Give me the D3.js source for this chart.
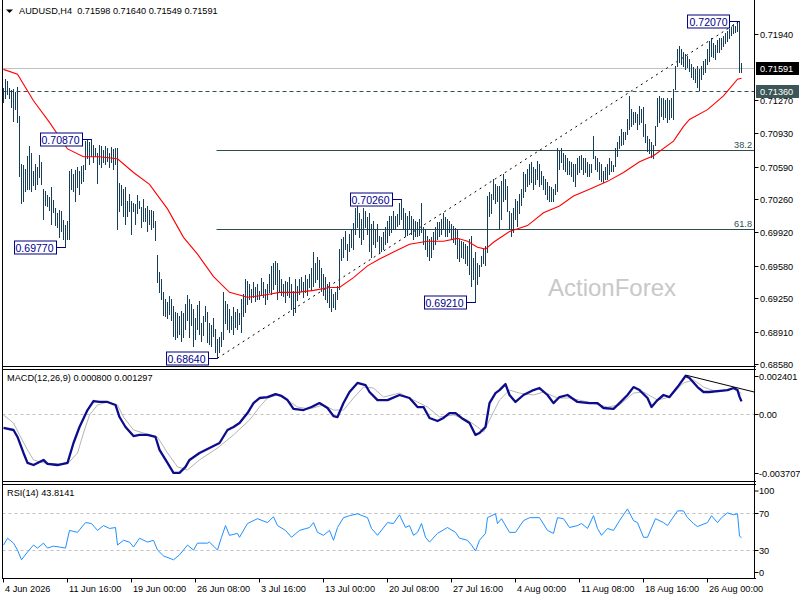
<!DOCTYPE html>
<html><head><meta charset="utf-8">
<script src="https://cdn.jsdelivr.net/npm/d3@7"></script>
<style>
html,body{margin:0;padding:0;background:#fff;}
svg{display:block;font-family:"Liberation Sans",Arial,sans-serif;}
</style>
</head><body>
<svg id="c" width="800" height="600"></svg>
<script>
// ---------------- DATA ----------------
const symbol = "AUDUSD,H4";
const headerOHLC = [0.71598, 0.71640, 0.71549, 0.71591];

// bar highs / lows in pips (0.0001)
const highPips = [7139,7148,7146,7139,7136,7138,7134,7140,7110,7061,7060,7056,7069,7079,7072,7054,7061,7058,7070,7063,
7036,7034,7030,7028,7038,7025,7016,7011,7014,7013,7004,6999,7003,7054,7056,7051,7055,7058,7054,7059,
7060,7085,7086,7084,7087,7081,7077,7072,7080,7079,7075,7079,7077,7072,7078,7076,7077,7077,7042,7040,
7036,7038,7023,7031,7023,7021,7020,7030,7023,7017,7026,7016,7018,7014,7014,7013,7003,6969,6951,6944,
6931,6924,6921,6927,6924,6917,6911,6909,6906,6912,6909,6919,6928,6924,6919,6914,6904,6918,6922,6899,
6906,6917,6911,6899,6897,6904,6893,6883,6885,6890,6931,6922,6919,6914,6906,6916,6911,6914,6909,6924,
6929,6944,6942,6939,6934,6941,6936,6939,6932,6945,6941,6934,6939,6949,6957,6960,6962,6960,6953,6944,
6939,6942,6941,6946,6939,6932,6944,6937,6944,6946,6941,6948,6944,6949,6955,6972,6960,6967,6963,6955,
6949,6946,6939,6941,6934,6929,6931,6937,6975,6985,6987,6993,6980,6990,6995,7001,7016,7023,7011,7005,
7016,7013,7007,7011,7000,7003,6995,7000,6988,6987,6992,6997,7003,7008,7008,7013,7008,7010,7021,7026,
7016,7011,7008,7013,7008,7005,7003,7002,7005,7021,6997,6995,6988,6985,6987,6992,6997,7002,7002,7005,
7011,7007,7005,7003,7000,6998,6996,6995,6985,6983,6982,6980,6978,6985,6988,6965,6972,6960,6958,6968,
6975,6978,7029,7033,7031,7046,7041,7039,7039,7044,7051,7046,7039,7013,7011,7016,7026,7023,7031,7036,
7053,7051,7056,7061,7063,7058,7056,7064,7061,7054,7049,7046,7043,7039,7038,7036,7041,7077,7074,7077,
7072,7070,7067,7064,7063,7061,7061,7067,7069,7070,7067,7067,7063,7061,7061,7090,7069,7067,7063,7061,
7054,7058,7061,7067,7064,7060,7077,7084,7090,7097,7094,7094,7107,7130,7117,7114,7114,7112,7120,7117,
7119,7102,7090,7087,7084,7080,7100,7128,7130,7128,7128,7126,7128,7126,7128,7138,7161,7178,7181,7178,
7175,7173,7171,7168,7163,7160,7158,7161,7158,7161,7166,7168,7178,7186,7189,7184,7182,7187,7189,7189,
7191,7194,7197,7199,7201,7204,7202,7205,7207,7164];
const lowPips = [7124,7128,7132,7128,7119,7105,7117,7104,7049,7021,7023,7034,7036,7036,7034,7040,7036,7041,7048,7041,
7005,7019,7018,7014,7000,7012,6999,6997,6987,6993,6985,6977,6985,6985,7036,7034,7023,7038,7031,7042,
7044,7056,7067,7061,7069,7063,7069,7042,7061,7058,7063,7061,7064,7058,7063,7056,7061,6995,7013,7019,
7008,7000,7008,7013,6990,7013,7000,7011,7016,6997,7003,7003,6993,7000,6995,6997,6984,6941,6931,6924,
6907,6906,6904,6908,6902,6886,6883,6885,6888,6881,6885,6893,6902,6885,6897,6876,6883,6893,6888,6881,
6887,6901,6880,6878,6876,6886,6870,6864,6870,6876,6883,6899,6893,6890,6893,6888,6895,6893,6898,6890,
6906,6911,6919,6924,6921,6926,6922,6924,6924,6928,6926,6919,6924,6931,6929,6934,6939,6924,6931,6928,
6927,6921,6928,6926,6914,6907,6911,6923,6929,6932,6926,6931,6928,6936,6934,6937,6941,6944,6936,6932,
6928,6924,6921,6916,6912,6916,6914,6924,6934,6963,6967,6975,6963,6973,6977,6975,6990,6997,6987,6980,
6985,6997,6990,6973,6967,6980,6977,6983,6972,6973,6975,6980,6982,6989,6992,6995,6995,6998,7000,7005,
6995,6988,6989,6995,6990,6985,6988,6988,6989,6992,6980,6975,6968,6963,6967,6975,6980,6985,6988,6990,
6995,6988,6988,6992,6985,6982,6980,6965,6962,6967,6965,6960,6958,6949,6937,6944,6921,6939,6947,6957,
6960,6958,6972,7008,7011,7026,7021,7023,6995,7005,7023,7026,7013,6995,6988,6992,7005,6998,7011,7019,
7028,7034,7039,7041,7043,7036,7041,7046,7039,7041,7036,7031,7026,7023,7023,7024,7031,7034,7056,7063,
7056,7054,7051,7051,7049,7044,7039,7051,7053,7056,7051,7053,7049,7049,7053,7067,7056,7054,7046,7044,
7043,7046,7046,7051,7054,7054,7059,7069,7077,7080,7082,7087,7092,7097,7100,7102,7104,7097,7102,7104,
7090,7084,7074,7072,7068,7067,7080,7100,7104,7110,7107,7109,7104,7107,7109,7107,7138,7161,7165,7163,
7161,7158,7160,7156,7150,7148,7145,7140,7136,7148,7153,7155,7163,7166,7171,7170,7168,7175,7175,7178,
7181,7184,7186,7189,7192,7194,7196,7197,7155,7155];

// moving average (red) [bar index, pips]
const maPts = [[0,7158],[7,7153],[15,7126],[23,7104],[32,7077],[40,7069],[48,7069],[57,7067],[65,7053],[73,7041],
[82,7016],[90,6987],[97,6970],[105,6947],[113,6931],[122,6926],[130,6928],[138,6931],[147,6931],[155,6933],
[163,6936],[168,6936],[175,6946],[182,6958],[188,6965],[195,6972],[203,6980],[212,6983],[220,6983],[227,6986],
[232,6983],[237,6977],[241,6975],[245,6982],[253,6993],[262,6999],[270,7012],[278,7019],[285,7029],[293,7036],
[302,7044],[310,7053],[318,7064],[325,7070],[335,7085],[340,7100],[343,7107],[352,7117],[360,7131],[367,7148],[369,7149]];

const priceTicks = [0.71940,0.71270,0.70930,0.70590,0.70260,0.69920,0.69580,0.69250,0.68910,0.68580];
const bidPrice = 0.71591;
const supportLevel = 0.71360;
const swingLabels = [[44,0.70870],[31,0.69770],[107,0.68640],[199,0.70260],[236,0.69210],[368,0.72070]];
const fibLow = [107, 0.68640];
const fibHigh = [368, 0.72070];
const fibLevels = [38.2, 61.8];
const watermark = "ActionForex";

const macdName = "MACD(12,26,9)";
const macdLast = [0.000800, 0.001297];
const macdMain = [[0,-0.00088],[5,-0.00101],[7,-0.00145],[10,-0.00246],[12,-0.00309],[15,-0.00322],[17,-0.00309],[20,-0.00290],[22,-0.00315],[27,-0.00322],
[32,-0.00309],[35,-0.00183],[38,-0.00082],[42,0.00025],[45,0.00082],[48,0.00076],[52,0.00076],[56,0.00057],[58,-0.00019],[61,-0.00082],
[65,-0.00139],[68,-0.00132],[72,-0.00132],[76,-0.00145],[78,-0.00227],[82,-0.00309],[85,-0.00372],[88,-0.00372],[91,-0.00334],[93,-0.00290],
[98,-0.00246],[103,-0.00215],[108,-0.00183],[112,-0.00101],[115,-0.00082],[118,-0.00057],[122,0.00006],[125,0.00069],[128,0.00101],[132,0.00107],
[136,0.00126],[139,0.00114],[142,0.00088],[145,0.00032],[150,0.00025],[154,0.00044],[158,0.00069],[162,0.00038],[165,-0.00013],[167,-0.00019],
[170,0.00069],[173,0.00139],[177,0.00196],[181,0.00183],[183,0.00139],[187,0.00088],[192,0.00088],[198,0.00120],[203,0.00101],[207,0.00044],
[210,0.00044],[213,-0.00025],[217,-0.00044],[220,-0.00025],[223,0.00006],[226,0.00006],[229,-0.00025],[233,-0.00057],[236,-0.00132],[238,-0.00120],
[241,-0.00082],[243,0.00069],[246,0.00132],[248,0.00151],[251,0.00189],[253,0.00120],[256,0.00076],[260,0.00120],[265,0.00151],[268,0.00164],
[272,0.00120],[275,0.00069],[278,0.00107],[282,0.00120],[287,0.00076],[293,0.00069],[297,0.00069],[300,0.00038],[305,0.00032],[308,0.00069],
[312,0.00120],[315,0.00170],[318,0.00151],[322,0.00101],[324,0.00044],[327,0.00088],[330,0.00120],[333,0.00107],[337,0.00170],[341,0.00240],
[343,0.00227],[347,0.00170],[350,0.00139],[353,0.00139],[357,0.00145],[362,0.00151],[365,0.00164],[367,0.00151],[368,0.00110],[369,0.00080]];
const macdSignal = [[0,-0.00006],[5,-0.00057],[8,-0.00132],[12,-0.00227],[15,-0.00290],[20,-0.00309],[27,-0.00315],[32,-0.00315],[37,-0.00246],[40,-0.00120],
[43,-0.00006],[47,0.00057],[52,0.00076],[57,0.00057],[60,-0.00019],[65,-0.00101],[70,-0.00120],[77,-0.00145],[82,-0.00246],[87,-0.00334],
[92,-0.00353],[98,-0.00290],[107,-0.00215],[115,-0.00132],[123,-0.00038],[128,0.00044],[132,0.00101],[137,0.00120],[142,0.00088],[147,0.00044],
[153,0.00032],[160,0.00057],[165,0.00025],[170,0.00025],[175,0.00101],[180,0.00170],[185,0.00164],[190,0.00107],[198,0.00132],[205,0.00088],
[212,0.00044],[218,-0.00019],[225,-0.00006],[232,-0.00038],[237,-0.00082],[240,-0.00114],[243,-0.00038],[248,0.00088],[253,0.00151],[258,0.00132],
[265,0.00120],[270,0.00139],[277,0.00101],[283,0.00101],[292,0.00076],[302,0.00044],[308,0.00057],[315,0.00132],[320,0.00139],[327,0.00088],
[333,0.00107],[340,0.00196],[345,0.00215],[350,0.00170],[357,0.00139],[365,0.00158],[369,0.001297]];
const macdTicks = [0.002401, 0, -0.003707];
const macdTrend = [[341,0.00246],[366,0.00168]];

const rsiName = "RSI(14)";
const rsiLast = 43.8141;
const rsiPts = [[0,35.8],[2,43.2],[5,37.9],[7,30.5],[9,20],[12,28.4],[15,35.8],[17,32.6],[20,37.9],[22,32.6],[25,34.7],[28,33.7],[31,32.6],
[33,51.6],[37,49.5],[41,60],[44,59],[47,51.6],[50,56.8],[53,53.7],[56,54.7],[57,35.8],[60,41],[63,39],[65,33.7],[68,43.2],[72,39],[75,41],
[77,30.5],[80,24.2],[85,20],[88,25.3],[92,35.8],[95,30.5],[97,37.9],[102,37.9],[103,39],[107,30.5],[109,44.2],[111,56.8],[113,46.3],[117,48.4],
[118,44.2],[122,59],[127,64.2],[132,60],[135,66.3],[137,56.8],[141,51.6],[144,44.2],[148,51.6],[153,54.7],[155,60],[157,49.5],[160,46.3],
[163,51.6],[165,41],[167,54.7],[170,65.3],[173,67.4],[177,69.5],[182,65.3],[184,53.7],[187,46.3],[192,60],[195,59],[198,68.4],[201,54.7],
[203,56.8],[205,46.3],[207,49.5],[209,59],[211,44.2],[213,39],[217,48.4],[222,54.7],[226,49.5],[228,43.2],[232,41],[234,35.8],[236,29.5],
[238,41],[241,48.4],[242,65.3],[246,69.5],[247,59],[249,64.2],[253,49.5],[256,49.5],[260,62.1],[263,65.3],[268,65.3],[272,51.6],[275,48.4],
[277,65.3],[280,64.2],[283,54.7],[287,56.8],[289,59],[292,53.7],[295,67.4],[297,53.7],[299,46.3],[302,53.7],[305,51.6],[308,62.1],[312,74.7],
[315,62.1],[317,60],[320,44.2],[322,44.2],[326,64.2],[330,60],[332,56.8],[337,72.6],[340,72.6],[342,65.3],[345,59],[347,55.8],[352,60],
[354,67.4],[357,60],[359,65.3],[362,70.5],[365,68.4],[367,69.5],[368,45.5],[369,43.81]];
const rsiLevels = [70, 30];
const rsiTicks = [100, 70, 30, 0];

const timeTicks = [[0,"4 Jun 2026"],[32,"11 Jun 16:00"],[64,"19 Jun 00:00"],[96,"26 Jun 08:00"],[128,"3 Jul 16:00"],[160,"13 Jul 00:00"],
[192,"20 Jul 08:00"],[224,"27 Jul 16:00"],[256,"4 Aug 00:00"],[288,"11 Aug 08:00"],[320,"18 Aug 16:00"],[352,"26 Aug 00:00"]];

// ---------------- DRAW ----------------
const svg = d3.select("#c");
const FS = 9.2;
const L = 2.5, R = 754.5;
const P = {main:[-1,366.5], macd:[369.5,481.5], rsi:[484.5,578.5]};
const n = highPips.length;

const x = d3.scaleLinear().domain([0, 369]).range([3.5, 741.5]);
const yP = d3.scaleLinear().domain([0.685555, 0.72286]).range([366.5, 0]);
const yM = d3.scaleLinear().domain([-0.00423, 0.00281]).range([481, 369.5]);
const yR = d3.scaleLinear().domain([0, 100]).range([578.4, 485.4]);

svg.append("rect").attr("width",800).attr("height",600).attr("fill","#fff");

const defs = svg.append("defs");
Object.entries(P).forEach(([k,[t,b]])=>{
  defs.append("clipPath").attr("id","clip-"+k).append("rect").attr("x",L).attr("y",t).attr("width",R-L).attr("height",b-t);
});

// ---- main panel ----
const gm = svg.append("g").attr("clip-path","url(#clip-main)");
// watermark
gm.append("text").attr("x",548).attr("y",296).attr("font-size",24).attr("fill","#c8c8c8").text(watermark);
// bid line
gm.append("line").attr("x1",L).attr("x2",R).attr("y1",Math.round(yP(bidPrice))+0.5).attr("y2",Math.round(yP(bidPrice))+0.5)
  .attr("stroke","#c0c0c0").attr("stroke-width",1);
// support dashed line
gm.append("line").attr("x1",L).attr("x2",R).attr("y1",Math.round(yP(supportLevel))+0.5).attr("y2",Math.round(yP(supportLevel))+0.5)
  .attr("stroke","#2f4f4f").attr("stroke-width",1).attr("stroke-dasharray","4,3");
// fib lines
const fibRange = fibHigh[1]-fibLow[1];
fibLevels.forEach(lv=>{
  const p = fibHigh[1] - fibRange*lv/100;
  const yy = Math.round(yP(p))+0.5;
  gm.append("line").attr("x1",x(fibLow[0])-1).attr("x2",R).attr("y1",yy).attr("y2",yy).attr("stroke","#2f4f4f").attr("stroke-width",1);
  gm.append("text").attr("x",752).attr("y",yy-2.5).attr("text-anchor","end").attr("font-size",FS).attr("fill","#2f4f4f").text(lv.toFixed(1));
});
// trendline (dotted)
gm.append("line").attr("x1",x(fibLow[0])).attr("y1",yP(fibLow[1])).attr("x2",x(fibHigh[0])).attr("y2",yP(fibHigh[1]))
  .attr("stroke","#000").attr("stroke-width",1).attr("stroke-dasharray","2,4");
// bars
gm.append("g").selectAll("line").data(d3.range(n)).join("line")
  .attr("x1",i=>x(i)).attr("x2",i=>x(i))
  .attr("y1",i=>yP(highPips[i]/1e4)-0.5).attr("y2",i=>yP(lowPips[i]/1e4)+0.5)
  .attr("stroke","#173e58").attr("stroke-width",1).attr("shape-rendering","crispEdges");
// moving average
gm.append("path").datum(maPts).attr("fill","none").attr("stroke","#ff0000").attr("stroke-width",1.1)
  .attr("d", d3.line().x(d=>x(d[0])).y(d=>yP(d[1]/1e4)));
// swing labels
const fmt5 = d3.format(".5f");
swingLabels.forEach(([i,p])=>{
  const ax = x(i), ay = Math.round(yP(p))+0.5;
  const g = svg.append("g");
  const t = g.append("text").attr("font-size",10.5).attr("fill","#00008b").attr("text-anchor","end")
    .attr("x", ax-12).attr("y", ay+4).text(fmt5(p));
  const w = t.node().getComputedTextLength();
  const bx = Math.round(ax-10) + 0.5;
  g.insert("rect","text").attr("x",bx-w-4).attr("y",ay-6.5).attr("width",w+4).attr("height",13)
    .attr("fill","#fff").attr("stroke","#000080").attr("stroke-width",1);
  g.append("line").attr("x1",bx).attr("x2",ax).attr("y1",ay).attr("y2",ay).attr("stroke","#000080").attr("stroke-width",1);
});

// ---- MACD panel ----
const gd = svg.append("g").attr("clip-path","url(#clip-macd)");
gd.append("line").attr("x1",L).attr("x2",R).attr("y1",Math.round(yM(0))+0.5).attr("y2",Math.round(yM(0))+0.5)
  .attr("stroke","#c0c0c0").attr("stroke-dasharray","3,3");
gd.append("path").datum(macdSignal).attr("fill","none").attr("stroke","#b4b4b4").attr("stroke-width",1)
  .attr("d", d3.line().x(d=>x(d[0])).y(d=>yM(d[1])));
gd.append("path").datum(macdMain).attr("fill","none").attr("stroke","#0c0c8c").attr("stroke-width",2.3)
  .attr("stroke-linejoin","round").attr("d", d3.line().x(d=>x(d[0])).y(d=>yM(d[1])));
{
  const [a,b] = macdTrend;
  const x1 = x(a[0]), y1 = yM(a[1]), x2 = x(b[0]), y2 = yM(b[1]);
  const slope = (y2-y1)/(x2-x1);
  gd.append("line").attr("x1",x1).attr("y1",y1).attr("x2",R).attr("y2",y1+slope*(R-x1)).attr("stroke","#000").attr("stroke-width",1);
}

// ---- RSI panel ----
const gr = svg.append("g").attr("clip-path","url(#clip-rsi)");
rsiLevels.forEach(v=>{
  const yy = Math.round(yR(v))+0.5;
  gr.append("line").attr("x1",L).attr("x2",R).attr("y1",yy).attr("y2",yy).attr("stroke","#c0c0c0").attr("stroke-dasharray","3,3");
});
gr.append("path").datum(rsiPts).attr("fill","none").attr("stroke","#1e90ff").attr("stroke-width",1)
  .attr("d", d3.line().x(d=>x(d[0])).y(d=>yR(d[1])));

// ---- frames ----
const fr = svg.append("g").attr("stroke","#000").attr("stroke-width",1).attr("fill","none").attr("shape-rendering","crispEdges");
fr.append("line").attr("x1",L).attr("x2",L).attr("y1",0).attr("y2",P.rsi[1]);
fr.append("line").attr("x1",R).attr("x2",R).attr("y1",0).attr("y2",P.rsi[1]);
[P.main[1], P.macd[0], P.macd[1], P.rsi[0], P.rsi[1]].forEach(yy=>{
  fr.append("line").attr("x1",L).attr("x2",R+1).attr("y1",yy).attr("y2",yy);
});

// ---- headers ----
svg.append("path").attr("d","M6,9.5 L13,9.5 L9.5,13 Z").attr("fill","#000");
svg.append("text").attr("x",19).attr("y",14).attr("font-size",FS).attr("fill","#000").style("white-space","pre")
  .text(symbol + "  " + headerOHLC.map(fmt5).join(" "));
svg.append("text").attr("x",7).attr("y",381).attr("font-size",FS).attr("fill","#000")
  .text(macdName + " " + macdLast.map(v=>v.toFixed(6)).join(" "));
svg.append("text").attr("x",7).attr("y",496).attr("font-size",FS).attr("fill","#000")
  .text(rsiName + " " + rsiLast.toFixed(4));

// ---- right axes ----
const ax = svg.append("g").attr("font-size",FS).attr("fill","#000");
priceTicks.forEach(p=>{
  const yy = Math.round(yP(p))+0.5;
  ax.append("line").attr("x1",R).attr("x2",R+4).attr("y1",yy).attr("y2",yy).attr("stroke","#000");
  ax.append("text").attr("x",760).attr("y",yy+3.3).text(fmt5(p));
});
[[bidPrice,"#000"],[supportLevel,"#3b5656"]].forEach(([p,c])=>{
  const yy = Math.round(yP(p))+0.5;
  ax.append("rect").attr("x",756).attr("y",yy-6.5).attr("width",43).attr("height",13).attr("fill",c);
  ax.append("text").attr("x",760).attr("y",yy+3.3).attr("fill","#fff").text(fmt5(p));
});
macdTicks.forEach(v=>{
  const yy = Math.round(yM(v))+0.5;
  ax.append("line").attr("x1",R).attr("x2",R+4).attr("y1",yy).attr("y2",yy).attr("stroke","#000");
  ax.append("text").attr("x",759).attr("y",yy+3.3).text(v===0 ? "0.00" : v.toFixed(6));
});
rsiTicks.forEach(v=>{
  const yy = Math.round(yR(v))+0.5;
  const ty = Math.max(P.rsi[0]+6.5, Math.min(P.rsi[1]-6, yy));
  ax.append("line").attr("x1",R).attr("x2",R+4).attr("y1",ty).attr("y2",ty).attr("stroke","#000");
  ax.append("text").attr("x",759).attr("y",ty+3.3).text(v);
});

// ---- time axis ----
timeTicks.forEach(([i,lab])=>{
  const xx = Math.round(x(i)-0.8)+0.5;
  ax.append("line").attr("x1",xx).attr("x2",xx).attr("y1",P.rsi[1]).attr("y2",P.rsi[1]+4).attr("stroke","#000");
  ax.append("text").attr("x",xx+1.5).attr("y",592).text(lab);
});
</script>
</body></html>
